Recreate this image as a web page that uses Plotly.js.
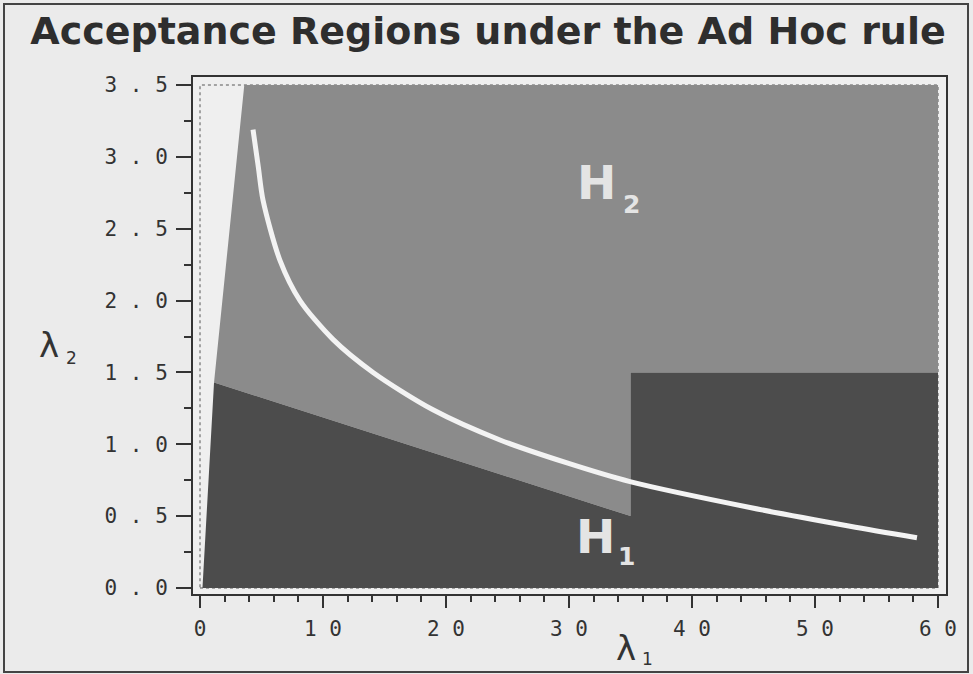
<!DOCTYPE html>
<html>
<head>
<meta charset="utf-8">
<script src="https://cdn.plot.ly/plotly-3.0.1.min.js"></script>
<style>html,body{margin:0;padding:0;background:#ebebeb;}#chart{width:973px;height:674px;}</style>
</head>
<body>
<div id="chart"></div>
<script>
// ---- data ----
const regionH2X = [1.14, 3.6, 60, 60, 35, 35, 1.14];
const regionH2Y = [1.43, 3.5, 3.5, 1.5, 1.5, 0.5, 1.43];
const regionH1X = [0.2, 1.14, 35, 35, 60, 60, 0.2];
const regionH1Y = [0.0, 1.43, 0.5, 1.5, 1.5, 0.0, 0.0];
const curveX = [4.31, 4.74, 5.12, 6.50, 8.13, 10.81, 14.07, 18.94, 24.39, 29.84, 34.96, 44.72, 52.85, 58.29];
const curveY = [3.19, 2.93, 2.70, 2.28, 2.00, 1.73, 1.50, 1.24, 1.03, 0.87, 0.74, 0.56, 0.43, 0.35];
const xTickVals = [0, 10, 20, 30, 40, 50, 60];
const xTickText = ["0", "1 0", "2 0", "3 0", "4 0", "5 0", "6 0"];
const yTickVals = [0, 0.5, 1.0, 1.5, 2.0, 2.5, 3.0, 3.5];
const yTickText = ["0 . 0", "0 . 5", "1 . 0", "1 . 5", "2 . 0", "2 . 5", "3 . 0", "3 . 5"];
const titleText = "Acceptance Regions under the Ad Hoc rule";

// ---- layout helpers (pixel -> paper) ----
const W = 973, H = 674;
const mL = 193, mR = 27, mT = 77, mB = 80;
const pw = W - mL - mR, ph = H - mT - mB;
const px = v => (v - mL) / pw;
const py = v => (H - mB - v) / ph;

const ink = '#333333';

const traces = [
  {x: regionH2X, y: regionH2Y, type: 'scatter', mode: 'lines', fill: 'toself',
   fillcolor: '#8b8b8b', line: {width: 0, color: '#8b8b8b'}, hoverinfo: 'skip', showlegend: false},
  {x: regionH1X, y: regionH1Y, type: 'scatter', mode: 'lines', fill: 'toself',
   fillcolor: '#4c4c4c', line: {width: 0, color: '#4c4c4c'}, hoverinfo: 'skip', showlegend: false},
  {x: curveX, y: curveY, type: 'scatter', mode: 'lines',
   line: {color: '#f3f3f3', width: 5, shape: 'spline', smoothing: 0.8}, hoverinfo: 'skip', showlegend: false}
];

function ann(text, x, y, size, color, family, weight) {
  return {text: text, xref: 'paper', yref: 'paper', x: px(x), y: py(y),
          xanchor: 'center', yanchor: 'middle', showarrow: false,
          font: {family: family, size: size, color: color, weight: weight || 'normal'}};
}

const layout = {
  width: W, height: H,
  paper_bgcolor: '#ebebeb', plot_bgcolor: '#efefef',
  margin: {l: mL, r: mR, t: mT, b: mB, pad: 0},
  title: {text: titleText, xref: 'paper', x: px(488), xanchor: 'center',
          yref: 'container', y: 1 - 31 / H, yanchor: 'middle',
          font: {family: 'DejaVu Sans', size: 38, color: '#2e2e2e', weight: 'bold'}},
  xaxis: {range: [-0.57, 60.65], tickmode: 'array', tickvals: xTickVals, ticktext: xTickText,
          ticks: 'outside', ticklen: 12, tickwidth: 2, tickcolor: ink, ticklabelstandoff: 3,
          showline: true, mirror: true, linecolor: ink, linewidth: 2,
          showgrid: false, zeroline: false, fixedrange: true,
          tickfont: {family: 'DejaVu Sans Mono', size: 21, color: ink},
          minor: {tickmode: 'linear', tick0: 0, dtick: 2, ticks: 'outside', ticklen: 6, tickwidth: 2, tickcolor: ink, showgrid: false}},
  yaxis: {range: [-0.042, 3.556], tickmode: 'array', tickvals: yTickVals, ticktext: yTickText,
          ticks: 'outside', ticklen: 15, tickwidth: 2, tickcolor: ink, ticklabelstandoff: 4,
          showline: true, mirror: true, linecolor: ink, linewidth: 2,
          showgrid: false, zeroline: false, fixedrange: true,
          tickfont: {family: 'DejaVu Sans Mono', size: 21, color: ink},
          minor: {tickmode: 'linear', tick0: 0, dtick: 0.25, ticks: 'outside', ticklen: 7, tickwidth: 2, tickcolor: ink, showgrid: false}},
  shapes: [
    {type: 'rect', xref: 'x', yref: 'y', x0: 0, x1: 60, y0: 0, y1: 3.5, layer: 'below',
     line: {color: '#8a8a8a', width: 1.5, dash: 'dot'}},
    {type: 'rect', xref: 'paper', yref: 'paper', x0: px(4), x1: px(968), y0: py(672), y1: py(4),
     line: {color: '#444444', width: 2}, fillcolor: 'rgba(0,0,0,0)'}
  ],
  annotations: [
    ann('H', 596, 182, 47, '#e4e4e4', 'DejaVu Sans', 'bold'),
    ann('2', 631, 204, 25, '#e4e4e4', 'DejaVu Sans', 'bold'),
    ann('H', 595, 536, 47, '#e4e4e4', 'DejaVu Sans', 'bold'),
    ann('1', 626, 556, 25, '#e4e4e4', 'DejaVu Sans', 'bold'),
    ann('λ', 49, 345, 34, ink, 'DejaVu Sans'),
    ann('2', 71, 358, 17, ink, 'DejaVu Sans'),
    ann('λ', 626, 648, 34, ink, 'DejaVu Sans'),
    ann('1', 647, 659, 17, ink, 'DejaVu Sans')
  ]
};

Plotly.newPlot('chart', traces, layout, {staticPlot: true, displayModeBar: false});
</script>
</body>
</html>
